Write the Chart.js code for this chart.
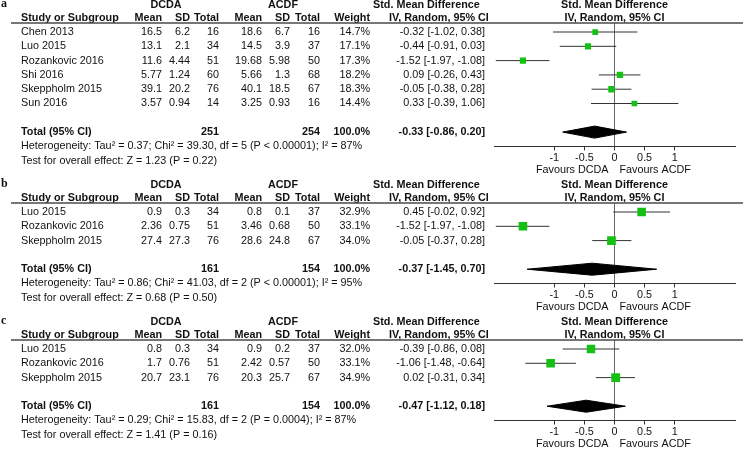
<!DOCTYPE html>
<html>
<head>
<meta charset="utf-8">
<script src="https://cdn.jsdelivr.net/npm/chart.js@4.4.1/dist/chart.umd.min.js"></script>
<style>
  html, body { margin: 0; padding: 0; background: #fff; }
  #page { position: relative; width: 745px; height: 449px; overflow: hidden; background: #fff; }
  .panel { position: absolute; left: 0; width: 745px; }
  .panel canvas { display: block; }
</style>
</head>
<body>
<div id="page">
  <div class="panel" style="top:0px"><canvas id="chart-a" width="745" height="178"></canvas></div>
  <div class="panel" style="top:178px"><canvas id="chart-b" width="745" height="137"></canvas></div>
  <div class="panel" style="top:315px"><canvas id="chart-c" width="745" height="134"></canvas></div>
</div>

<script>
/* ─── DATA ───────────────────────────────────────────────────
   One set of arrays per panel (a, b, c).
─────────────────────────────────────────────────────────────── */

const TICKS = [-1, -0.5, 0, 0.5, 1];

/* panel a */
const A_STUDY   = ['Chen 2013', 'Luo 2015', 'Rozankovic 2016', 'Shi 2016', 'Skeppholm 2015', 'Sun 2016'];
const A_MEAN1   = [16.5, 13.1, 11.6, 5.77, 39.1, 3.57];
const A_SD1     = [6.2, 2.1, 4.44, 1.24, 20.2, 0.94];
const A_N1      = [16, 34, 51, 60, 76, 14];
const A_MEAN2   = [18.6, 14.5, 19.68, 5.66, 40.1, 3.25];
const A_SD2     = [6.7, 3.9, 5.98, 1.3, 18.5, 0.93];
const A_N2      = [16, 37, 50, 68, 67, 16];
const A_WEIGHT  = [14.7, 17.1, 17.3, 18.2, 18.3, 14.4];
const A_SMD     = [-0.32, -0.44, -1.52, 0.09, -0.05, 0.33];
const A_LO      = [-1.02, -0.91, -1.97, -0.26, -0.38, -0.39];
const A_HI      = [0.38, 0.03, -1.08, 0.43, 0.28, 1.06];
const A_TOTAL   = [251, 254];          // DCDA, ACDF
const A_POOLED  = [-0.33, -0.86, 0.20]; // est, lo, hi
const A_HET     = 'Heterogeneity: Tau² = 0.37; Chi² = 39.30, df = 5 (P < 0.00001); I² = 87%';
const A_TEST    = 'Test for overall effect: Z = 1.23 (P = 0.22)';

/* panel b */
const B_STUDY   = ['Luo 2015', 'Rozankovic 2016', 'Skeppholm 2015'];
const B_MEAN1   = [0.9, 2.36, 27.4];
const B_SD1     = [0.3, 0.75, 27.3];
const B_N1      = [34, 51, 76];
const B_MEAN2   = [0.8, 3.46, 28.6];
const B_SD2     = [0.1, 0.68, 24.8];
const B_N2      = [37, 50, 67];
const B_WEIGHT  = [32.9, 33.1, 34.0];
const B_SMD     = [0.45, -1.52, -0.05];
const B_LO      = [-0.02, -1.97, -0.37];
const B_HI      = [0.92, -1.08, 0.28];
const B_TOTAL   = [161, 154];
const B_POOLED  = [-0.37, -1.45, 0.70];
const B_HET     = 'Heterogeneity: Tau² = 0.86; Chi² = 41.03, df = 2 (P < 0.00001); I² = 95%';
const B_TEST    = 'Test for overall effect: Z = 0.68 (P = 0.50)';

/* panel c */
const C_STUDY   = ['Luo 2015', 'Rozankovic 2016', 'Skeppholm 2015'];
const C_MEAN1   = [0.8, 1.7, 20.7];
const C_SD1     = [0.3, 0.76, 23.1];
const C_N1      = [34, 51, 76];
const C_MEAN2   = [0.9, 2.42, 20.3];
const C_SD2     = [0.2, 0.57, 25.7];
const C_N2      = [37, 50, 67];
const C_WEIGHT  = [32.0, 33.1, 34.9];
const C_SMD     = [-0.39, -1.06, 0.02];
const C_LO      = [-0.86, -1.48, -0.31];
const C_HI      = [0.08, -0.64, 0.34];
const C_TOTAL   = [161, 154];
const C_POOLED  = [-0.47, -1.12, 0.18];
const C_HET     = 'Heterogeneity: Tau² = 0.29; Chi² = 15.83, df = 2 (P = 0.0004); I² = 87%';
const C_TEST    = 'Test for overall effect: Z = 1.41 (P = 0.16)';


/* ─── LAYOUT ─────────────────────────────────────────────────
   Pixel positions of the table columns and panel geometry.
─────────────────────────────────────────────────────────────── */

const FONT     = '"Liberation Sans", Arial, sans-serif';
const FSIZE    = 10.8;
const ROW_PX   = 14.3;
const TOP_PAD  = 0.63;   // rows between rule and first study
const AXIS_H   = 26;
const PLOT_L   = 494;
const PLOT_R   = 735;
const GREEN    = '#14c014';

const COL = {
  study: 21, m1: 162, sd1: 190, n1: 219, m2: 262, sd2: 290, n2: 320, w: 370, ci: 485,
  dcda: 166, acdf: 283, smdL: 373, ivL: 389,
};

Chart.defaults.font.family = FONT;
Chart.defaults.font.size   = FSIZE;
Chart.defaults.color       = '#111';

const PANELS = [
  { id: 'chart-a', letter: 'a', top: 0,   height: 178, head: 5,
    study: A_STUDY, m1: A_MEAN1, sd1: A_SD1, n1: A_N1, m2: A_MEAN2, sd2: A_SD2, n2: A_N2,
    w: A_WEIGHT, smd: A_SMD, lo: A_LO, hi: A_HI, total: A_TOTAL, pooled: A_POOLED, het: A_HET, test: A_TEST },
  { id: 'chart-b', letter: 'b', top: 178, height: 137, head: 185,
    study: B_STUDY, m1: B_MEAN1, sd1: B_SD1, n1: B_N1, m2: B_MEAN2, sd2: B_SD2, n2: B_N2,
    w: B_WEIGHT, smd: B_SMD, lo: B_LO, hi: B_HI, total: B_TOTAL, pooled: B_POOLED, het: B_HET, test: B_TEST },
  { id: 'chart-c', letter: 'c', top: 315, height: 134, head: 322,
    study: C_STUDY, m1: C_MEAN1, sd1: C_SD1, n1: C_N1, m2: C_MEAN2, sd2: C_SD2, n2: C_N2,
    w: C_WEIGHT, smd: C_SMD, lo: C_LO, hi: C_HI, total: C_TOTAL, pooled: C_POOLED, het: C_HET, test: C_TEST },
];

const fmtCI = (e, l, h) => `${e.toFixed(2)} [${l.toFixed(2)}, ${h.toFixed(2)}]`;


/* ─── TABLE TEXT PLUGIN ──────────────────────────────────────
   Writes the study table next to the plot, rows placed with
   the chart's own y scale.
─────────────────────────────────────────────────────────────── */

const tablePlugin = {
  id: 'forestTable',
  afterDraw(chart, args, p) {
    const c  = chart.ctx;
    const y  = chart.scales.y;
    const x  = chart.scales.x;
    const n  = p.study.length;
    const zero = x.getPixelForValue(0);

    const txt = (s, px, row, align, bold) => {
      c.font = `${bold ? 'bold ' : ''}${FSIZE}px ${FONT}`;
      c.textAlign = align;
      c.fillText(s, px, y.getPixelForValue(row));
    };

    c.save();
    c.fillStyle = '#111';
    c.textBaseline = 'middle';

    /* panel letter */
    c.font = `bold 12px "Liberation Serif", "Times New Roman", serif`;
    c.textAlign = 'left';
    c.fillText(p.letter, 1, y.getPixelForValue(-1.95));

    /* header rows */
    const h1 = -1.89, h2 = -0.95;
    txt('DCDA', COL.dcda, h1, 'center', true);
    txt('ACDF', COL.acdf, h1, 'center', true);
    txt('Std. Mean Difference', COL.smdL, h1, 'left', true);
    txt('Std. Mean Difference', zero, h1, 'center', true);

    txt('Study or Subgroup', COL.study, h2, 'left', true);
    txt('Mean', COL.m1, h2, 'right', true);
    txt('SD', COL.sd1, h2, 'right', true);
    txt('Total', COL.n1, h2, 'right', true);
    txt('Mean', COL.m2, h2, 'right', true);
    txt('SD', COL.sd2, h2, 'right', true);
    txt('Total', COL.n2, h2, 'right', true);
    txt('Weight', COL.w, h2, 'right', true);
    txt('IV, Random, 95% CI', COL.ivL, h2, 'left', true);
    txt('IV, Random, 95% CI', zero, h2, 'center', true);

    /* rule under headers */
    c.strokeStyle = '#4a4a4a';
    c.lineWidth = 1.4;
    c.beginPath();
    c.moveTo(11, chart.chartArea.top);
    c.lineTo(743, chart.chartArea.top);
    c.stroke();

    /* study rows */
    p.study.forEach((s, i) => {
      txt(s, COL.study, i, 'left');
      txt(String(p.m1[i]), COL.m1, i, 'right');
      txt(String(p.sd1[i]), COL.sd1, i, 'right');
      txt(String(p.n1[i]), COL.n1, i, 'right');
      txt(String(p.m2[i]), COL.m2, i, 'right');
      txt(String(p.sd2[i]), COL.sd2, i, 'right');
      txt(String(p.n2[i]), COL.n2, i, 'right');
      txt(p.w[i].toFixed(1) + '%', COL.w, i, 'right');
      txt(fmtCI(p.smd[i], p.lo[i], p.hi[i]), COL.ci, i, 'right');
    });

    /* pooled row */
    const t = n + 1;
    txt('Total (95% CI)', COL.study, t, 'left', true);
    txt(String(p.total[0]), COL.n1, t, 'right', true);
    txt(String(p.total[1]), COL.n2, t, 'right', true);
    txt('100.0%', COL.w, t, 'right', true);
    txt(fmtCI(p.pooled[0], p.pooled[1], p.pooled[2]), COL.ci, t, 'right', true);
    txt(p.het, COL.study, t + 1.0, 'left');
    txt(p.test, COL.study, t + 2.0, 'left');

    /* favours labels under the axis */
    const fy = chart.chartArea.bottom + 24;
    c.font = `${FSIZE}px ${FONT}`;
    c.textAlign = 'right';
    c.fillText('Favours DCDA', zero - 6, fy);
    c.textAlign = 'left';
    c.fillText('Favours ACDF', zero + 5, fy);

    c.restore();
  },
};


/* ─── BUILD ONE PANEL ────────────────────────────────────────
   Squares, CI whiskers and the pooled diamond on a linear
   x scale from -2 to 2.
─────────────────────────────────────────────────────────────── */

function buildPanel(p) {
  const n = p.study.length;
  const rule = p.head + 18 - p.top;
  const yMin = -TOP_PAD;
  const yMax = n + 2;
  const areaH = ROW_PX * (yMax - yMin);
  const bottomPad = p.height - rule - areaH - AXIS_H;
  const t = n + 1;
  const [pe, pl, ph] = p.pooled;

  const datasets = [
    {
      label: 'SMD',
      data: p.smd.map((v, i) => ({ x: v, y: i })),
      pointStyle: 'rect',
      pointRadius: p.w.map((w) => Math.sqrt(w) * 1.06),
      backgroundColor: GREEN,
      borderColor: GREEN,
      borderWidth: 0,
    },
    {
      label: 'Pooled',
      data: [
        { x: pl, y: t }, { x: pe, y: t - 0.42 }, { x: ph, y: t },
        { x: pe, y: t + 0.42 }, { x: pl, y: t },
      ],
      showLine: true,
      fill: 'shape',
      backgroundColor: '#000',
      borderColor: '#000',
      borderWidth: 1,
      pointRadius: 0,
      tension: 0,
    },
  ];

  p.smd.forEach((v, i) => {
    datasets.push({
      label: 'CI ' + p.study[i],
      data: [{ x: p.lo[i], y: i }, { x: p.hi[i], y: i }],
      showLine: true,
      borderColor: '#333',
      borderWidth: 1,
      pointRadius: 0,
    });
  });

  return new Chart(document.getElementById(p.id), {
    type: 'scatter',
    data: { datasets },
    options: {
      responsive: false,
      animation: false,
      devicePixelRatio: 1,
      layout: { padding: { left: PLOT_L, right: 745 - PLOT_R, top: rule, bottom: bottomPad } },
      plugins: {
        legend: { display: false },
        tooltip: { enabled: false },
        forestTable: p,
      },
      scales: {
        x: {
          type: 'linear',
          min: -2,
          max: 2,
          afterBuildTicks: (scale) => { scale.ticks = TICKS.map((v) => ({ value: v })); },
          afterFit: (scale) => { scale.height = AXIS_H; },
          ticks: {
            color: '#111',
            padding: 1,
            maxRotation: 0,
            autoSkip: false,
            font: { size: FSIZE },
            callback: (v) => String(v),
          },
          grid: {
            drawOnChartArea: true,
            color: (ctx) => (ctx.tick && ctx.tick.value === 0 ? '#666' : 'rgba(0,0,0,0)'),
            tickColor: '#333',
            tickLength: 4,
            lineWidth: 1,
          },
          border: { display: true, color: '#333', width: 1 },
        },
        y: {
          type: 'linear',
          display: false,
          reverse: true,
          min: yMin,
          max: yMax,
        },
      },
    },
    plugins: [tablePlugin],
  });
}


/* ─── INIT ───────────────────────────────────────────────────*/

PANELS.forEach(buildPanel);
</script>
</body>
</html>
